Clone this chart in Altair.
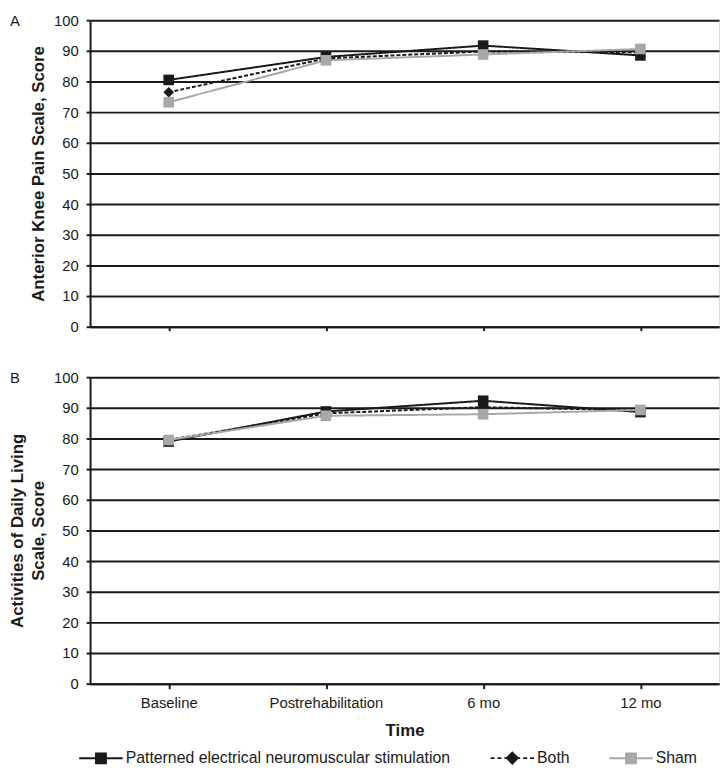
import altair as alt
import pandas as pd

times = ["Baseline", "Postrehabilitation", "6 mo", "12 mo"]
series = ["Patterned electrical neuromuscular stimulation", "Both", "Sham"]
panel_labels = ["A", "B"]

akps_pens = [80.5, 88.0, 91.7, 88.5]
akps_both = [76.5, 87.5, 89.8, 89.5]
akps_sham = [73.2, 86.9, 88.8, 90.6]

adl_pens = [79.0, 88.8, 92.3, 88.6]
adl_both = [79.5, 88.2, 90.2, 89.2]
adl_sham = [79.5, 87.4, 87.9, 89.3]

y_ticks = [0, 10, 20, 30, 40, 50, 60, 70, 80, 90, 100]

series_colors = ["#1a1a1a", "#1a1a1a", "#a8a8a8"]
series_dash = [[1, 0], [4, 2], [1, 0]]
series_shapes = ["square", "diamond", "square"]

# legend symbols: line + marker, drawn as custom symbol paths
legend_paths = [
    "M-2.2,0H2.2M-0.5,-0.5H0.5V0.5H-0.5Z",
    "M-2.2,0H-1.8M-1.5,0H-1.1M-0.8,0H-0.4M0.4,0H0.8M1.1,0H1.5M1.8,0H2.2M0,-0.55L0.55,0L0,0.55L-0.55,0Z",
    "M-2.2,0H2.2M-0.5,-0.5H0.5V0.5H-0.5Z",
]


def make_df(vals):
    rows = []
    for s, v in zip(series, vals):
        for t, y in zip(times, v):
            rows.append({"time": t, "series": s, "score": y})
    return pd.DataFrame(rows)


df_a = make_df([akps_pens, akps_both, akps_sham])
df_b = make_df([adl_pens, adl_both, adl_sham])

FONT = "Liberation Sans"
INK = "#1a1a1a"

legend = alt.Legend(
    title=None,
    orient="bottom",
    direction="horizontal",
    symbolSize=400,
    symbolStrokeWidth=2,
    symbolOpacity=1,
    labelOffset=14,
    columnPadding=36,
    labelFont=FONT,
    labelFontSize=16,
    labelColor=INK,
    labelLimit=420,
    offset=8,
)

# data-driven (alphabetical) domains for the drawn marks, so that their
# disabled legends do not swallow the explicit legend below
alpha = sorted(series)
color_scale = alt.Scale(range=[series_colors[series.index(s)] for s in alpha])
dash_scale = alt.Scale(range=[series_dash[series.index(s)] for s in alpha])
x_scale = alt.Scale(domain=times, padding=0.5)


def panel(df, ytitle, label, show_x, show_legend):
    if show_x:
        xaxis = alt.Axis(
            title="Time", labelAngle=0, labelFont=FONT, labelFontSize=15,
            labelColor=INK, titleFont=FONT, titleFontSize=17,
            titleFontWeight="bold", titleColor=INK, tickSize=5,
            tickColor=INK, tickWidth=2, domainColor=INK,
            domainWidth=2, grid=False, labelPadding=7, titlePadding=12,
        )
    else:
        xaxis = alt.Axis(title=None, labels=False, ticks=True, tickSize=4,
                         tickColor=INK, tickWidth=2, domain=True,
                         domainColor=INK, domainWidth=2, grid=False)
    yaxis = alt.Axis(
        title=ytitle, values=y_ticks, labelFont=FONT, labelFontSize=15,
        labelColor=INK, titleFont=FONT, titleFontSize=17,
        titleFontWeight="bold", titleColor=INK, tickSize=4,
        tickColor=INK, tickWidth=2, domainColor=INK,
        domainWidth=2, grid=True, gridColor=INK, gridWidth=2,
        gridOpacity=1, labelPadding=8, titlePadding=6, titleLineHeight=21,
    )
    base = alt.Chart(df)
    x = alt.X("time:N", sort=times, scale=x_scale, axis=xaxis)
    y = alt.Y("score:Q", scale=alt.Scale(domain=[0, 100]), axis=yaxis)
    lines = base.mark_line(strokeWidth=2).encode(
        x=x, y=y,
        color=alt.Color("series:N", scale=color_scale, legend=None),
        strokeDash=alt.StrokeDash("series:N", scale=dash_scale, legend=None),
        detail="series:N",
    )
    layers = [lines]
    for s, shp in zip(series, series_shapes):
        layers.append(
            base.transform_filter(alt.datum.series == s)
            .mark_point(filled=True, size=115, opacity=1, shape=shp)
            .encode(x=x, y=y,
                    color=alt.Color("series:N", scale=color_scale, legend=None))
        )
    layers.append(
        alt.Chart(pd.DataFrame({"label": [label]}))
        .mark_text(font=FONT, fontSize=15, color=INK, align="left",
                   baseline="middle")
        .encode(text="label:N", x=alt.value(-81), y=alt.value(1))
    )
    if show_legend:
        # layer with no rows that only carries the legend
        layers.append(
            base.transform_filter("false")
            .mark_point(filled=True, opacity=1)
            .encode(
                fill=alt.Fill("series:N",
                              scale=alt.Scale(domain=series, range=series_colors),
                              legend=legend),
                stroke=alt.Stroke("series:N",
                                  scale=alt.Scale(domain=series, range=series_colors),
                                  legend=legend),
                shape=alt.Shape("series:N",
                                scale=alt.Scale(domain=series, range=legend_paths),
                                legend=legend),
            )
        )
    return alt.layer(*layers).properties(width=636, height=310)


pa = panel(df_a, "Anterior Knee Pain Scale, Score", panel_labels[0], False, True)
pb = panel(df_b, ["Activities of Daily Living", "Scale, Score"], panel_labels[1], True, False)

chart = alt.vconcat(pa, pb, spacing=34).configure_view(stroke=None).configure(
    padding={"left": 0, "top": 0, "right": 0, "bottom": 0}
)

chart.save("out.html", embed_options={"renderer": "svg", "actions": False})
